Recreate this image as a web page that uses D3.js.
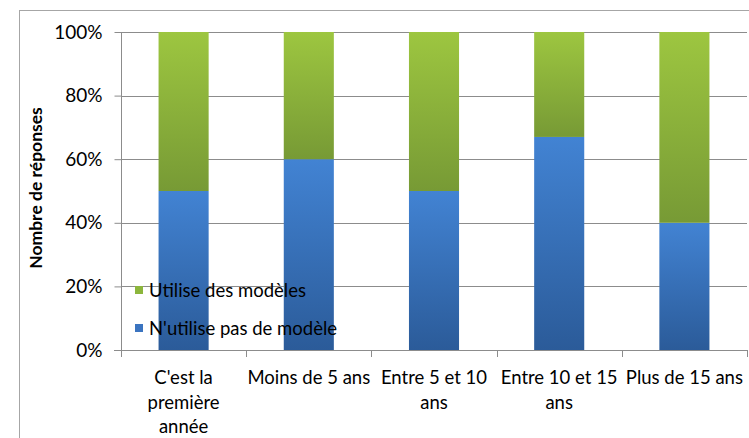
<!DOCTYPE html>
<html>
<head>
<meta charset="utf-8">
<script src="https://cdn.jsdelivr.net/npm/d3@7"></script>
<style>
  html, body { margin: 0; padding: 0; background: #fff; }
  svg { display: block; }
  text { font-family: Lato, "Open Sans", sans-serif; fill: #000; }
</style>
</head>
<body>
<svg id="chart" width="749" height="438"></svg>
<script>
// Experience groups and the share of answers for each group
const categories = [
  ["C'est la", "première", "année"],
  ["Moins de 5 ans"],
  ["Entre 5 et 10", "ans"],
  ["Entre 10 et 15", "ans"],
  ["Plus de 15 ans"]
];
const nonUsers = [0.50, 0.60, 0.50, 0.67, 0.40];   // N'utilise pas de modèle
const users    = [0.50, 0.40, 0.50, 0.33, 0.60];   // Utilise des modèles
const seriesNames = ["N'utilise pas de modèle", "Utilise des modèles"];
const yTicks = [0, 0.2, 0.4, 0.6, 0.8, 1.0];
const yTitle = "Nombre de réponses";

const svg = d3.select("#chart");
const W = 749, H = 438;
const plot = { left: 121, right: 747, top: 32, bottom: 350 };

// Outer frame of the chart area
svg.append("rect")
  .attr("x", 19.5).attr("y", 10.5)
  .attr("width", W + 20).attr("height", H + 20)
  .attr("fill", "#fff").attr("stroke", "#a6a6a6");

// Gradients for the two series
const defs = svg.append("defs");
function grad(id, top, bottom) {
  const g = defs.append("linearGradient").attr("id", id)
    .attr("x1", 0).attr("y1", 0).attr("x2", 0).attr("y2", 1);
  g.append("stop").attr("offset", "0%").attr("stop-color", top);
  g.append("stop").attr("offset", "100%").attr("stop-color", bottom);
}
grad("gBlue", "#4283d3", "#2b5b99");
grad("gGreen", "#9dc640", "#779a35");

const x = d3.scaleBand()
  .domain(d3.range(categories.length))
  .range([plot.left, plot.right])
  .paddingInner(0.6).paddingOuter(0.3);
const xBand = d3.scaleBand()
  .domain(d3.range(categories.length))
  .range([plot.left, plot.right]);
const y = d3.scaleLinear().domain([0, 1]).range([plot.bottom, plot.top]);

// Horizontal gridlines
svg.append("g")
  .selectAll("line")
  .data(yTicks.filter(t => t > 0))
  .join("line")
  .attr("x1", plot.left).attr("x2", plot.right)
  .attr("y1", d => Math.round(y(d)) + 0.5).attr("y2", d => Math.round(y(d)) + 0.5)
  .attr("stroke", "#8c8c8c");

// Stacked bars
const stackData = categories.map((c, i) => ({ i, nonUsers: nonUsers[i], users: users[i] }));
const stacked = d3.stack().keys(["nonUsers", "users"])(stackData);
const fills = { nonUsers: "url(#gBlue)", users: "url(#gGreen)" };
svg.append("g")
  .selectAll("g")
  .data(stacked)
  .join("g")
  .attr("fill", d => fills[d.key])
  .selectAll("rect")
  .data(d => d)
  .join("rect")
  .attr("x", d => x(d.data.i))
  .attr("width", x.bandwidth())
  .attr("y", d => y(d[1]))
  .attr("height", d => y(d[0]) - y(d[1]));

// Y axis
const yAxis = d3.axisLeft(y).tickValues(yTicks).tickFormat(d3.format(".0%")).tickSize(7).tickPadding(12);
const gy = svg.append("g").attr("transform", `translate(${plot.left + 0.5},0)`).call(yAxis);
gy.selectAll("path, line").attr("stroke", "#8c8c8c");
gy.select(".domain").attr("d", `M0,${plot.top}V${plot.bottom}`);
gy.selectAll("text").attr("font-size", 19).attr("font-family", "Lato, sans-serif").attr("fill", "#000");

// X axis line and category separators
const gx = svg.append("g");
gx.append("line")
  .attr("x1", plot.left - 7).attr("x2", plot.right)
  .attr("y1", plot.bottom + 0.5).attr("y2", plot.bottom + 0.5)
  .attr("stroke", "#8c8c8c");
gx.selectAll("line.sep")
  .data(d3.range(categories.length + 1))
  .join("line").attr("class", "sep")
  .attr("x1", d => Math.round(plot.left + d * xBand.step()) + 0.5)
  .attr("x2", d => Math.round(plot.left + d * xBand.step()) + 0.5)
  .attr("y1", plot.bottom).attr("y2", plot.bottom + 7)
  .attr("stroke", "#8c8c8c");

// Category labels
gx.selectAll("text.cat")
  .data(categories)
  .join("text").attr("class", "cat")
  .attr("text-anchor", "middle")
  .attr("font-size", 18.5)
  .attr("x", (d, i) => xBand(i) + xBand.bandwidth() / 2)
  .attr("y", 384)
  .selectAll("tspan")
  .data(d => d)
  .join("tspan")
  .attr("x", function () { return d3.select(this.parentNode).attr("x"); })
  .attr("dy", (d, j) => j === 0 ? 0 : 24.5)
  .text(d => d);

// Y axis title
svg.append("text")
  .attr("transform", "translate(42,188) rotate(-90)")
  .attr("text-anchor", "middle")
  .attr("font-size", 17.5)
  .attr("font-weight", "bold")
  .text(yTitle);

// Legend (drawn over the plot, green series first)
const legendItems = [
  { name: seriesNames[1], color: "#8cb63c", y: 290 },
  { name: seriesNames[0], color: "#3b74c0", y: 328 }
];
const lg = svg.append("g").selectAll("g").data(legendItems).join("g")
  .attr("transform", d => `translate(135,${d.y})`);
lg.append("rect").attr("x", 0).attr("y", -4).attr("width", 8).attr("height", 8)
  .attr("fill", d => d.color);
lg.append("text").attr("x", 14).attr("y", 6.5).attr("font-size", 18.5).text(d => d.name);
</script>
</body>
</html>
